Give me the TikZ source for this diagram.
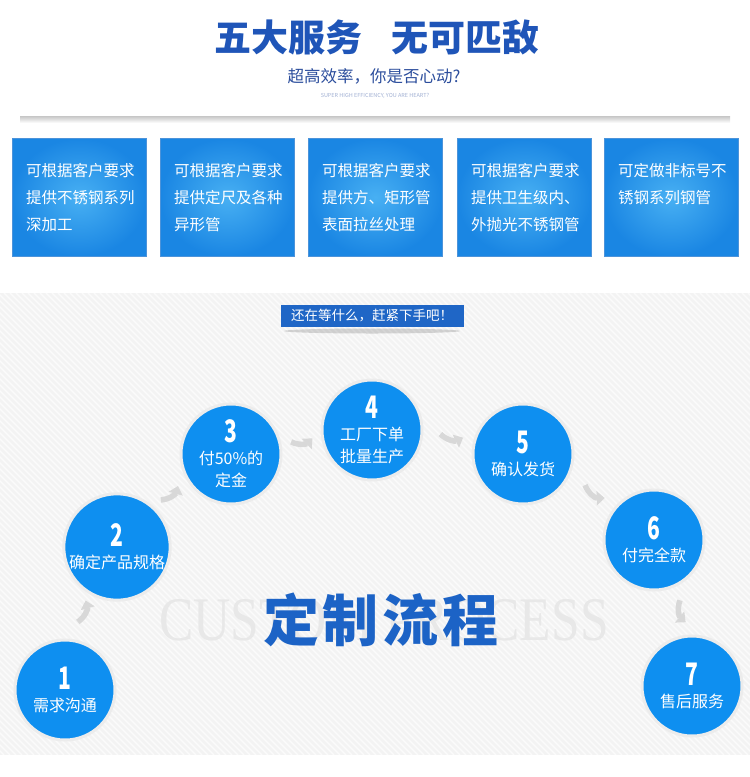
\documentclass[tikz,border=0pt]{standalone}
\usepackage{fontspec}
\setmainfont{Noto Sans CJK SC}
\newfontfamily\serifwm{Liberation Serif}
\usepackage{tikz}
\usetikzlibrary{calc,arrows.meta,positioning}
\definecolor{titleblue}{HTML}{1F55B8}
\definecolor{subblue}{HTML}{2B4D9C}
\definecolor{boxin}{HTML}{48B0F3}
\definecolor{boxout}{HTML}{1A86E3}
\definecolor{boxedge}{HTML}{4C93DA}
\definecolor{stageblue}{HTML}{0E8FF0}
\definecolor{ring}{HTML}{ECECEC}
\definecolor{banner}{HTML}{1F66C6}
\definecolor{bggray}{HTML}{F3F3F3}
\definecolor{arrowgray}{HTML}{D8D8D8}
\definecolor{wm}{HTML}{E8E8E8}
\definecolor{flowblue}{HTML}{1C63C6}
\newcommand{\stagenum}[1]{\scalebox{0.68}[1]{\fontsize{31}{31}\selectfont\bfseries #1}}
\tikzset{
  servbox/.style={rectangle, minimum width=134pt, minimum height=118pt, inner sep=0pt, inner color=boxin, outer color=boxout, draw=boxedge, line width=0.6pt, anchor=north west},
  servtext/.style={anchor=north west, inner sep=0pt, text=white, font=\fontsize{15.5}{27}\selectfont, align=left},
  stage/.style={circle, minimum size=100pt, inner sep=0pt, fill=stageblue, draw=ring, line width=3pt, text=white, align=center, font=\fontsize{16}{22}\selectfont},
  hop/.style={draw=arrowgray, line width=5.5pt, -{Triangle[length=8pt,width=14pt]}},
}
\begin{document}
\begin{tikzpicture}[x=1pt,y=-1pt]
  \useasboundingbox (0,0) rectangle (750,777);
  % header
  \node[text=titleblue, font=\fontsize{37}{37}\selectfont\bfseries] (title) at (377,37) {五大服务\hspace{30pt}无可匹敌};
  \node[text=subblue, font=\fontsize{16.5}{16.5}\selectfont] (sub) at (374,76) {超高效率，你是否心动?};
  \node[text=subblue!45, font=\fontsize{5.5}{5.5}\selectfont] (subeng) at (375,96) {SUPER HIGH EFFICIENCY, YOU ARE HEART?};
  \shade[top color=gray!45, bottom color=white] (20,116) rectangle (730,123);
  % service boxes
  \foreach \i/\x/\txt in {1/12/{可根据客户要求\\提供不锈钢系列\\深加工},
                          2/160/{可根据客户要求\\提供定尺及各种\\异形管},
                          3/308/{可根据客户要求\\提供方、矩形管\\表面拉丝处理},
                          4/457/{可根据客户要求\\提供卫生级内、\\外抛光不锈钢管},
                          5/604/{可定做非标号不\\锈钢系列钢管}} {
    \node[servbox] (b\i) at (\x,138) {};
    \node[servtext] (t\i) at ($(b\i.north west)+(14,25)$) {\txt};
  }
  % process area
  \fill[bggray] (0,293) rectangle (750,755);
  \begin{scope}
    \clip (0,293) rectangle (750,755);
    \foreach \k in {-470,-464,...,750}
      \draw[white, opacity=0.75, line width=1.2pt] (\k,293) -- ++(462,462);
  \end{scope}
  \fill[black, opacity=0.15] (372,331) ellipse [x radius=88, y radius=2.5];
  \node[fill=banner, text=white, minimum width=183pt, minimum height=22pt, inner sep=0pt, font=\fontsize{13.5}{13.5}\selectfont] (call) at (372,316) {还在等什么，赶紧下手吧！};
  \node[text=wm, font=\serifwm\fontsize{62}{62}\selectfont] (wmark) at (384,620) {\scalebox{0.83}[1]{CUSTOM PROCESS}};
  \node[text=flowblue, font=\fontsize{56}{56}\selectfont\bfseries] (flow) at (381,620) {定\kern4pt制\kern4pt流\kern4pt程};
  % stages
  \node[stage] (s1) at (65,690) {\stagenum{1}\\需求沟通};
  \node[stage] (s2) at (117,547) {\stagenum{2}\\确定产品规格};
  \node[stage] (s3) at (231,454) {\stagenum{3}\\付50\%的\\定金};
  \node[stage] (s4) at (372,430) {\stagenum{4}\\工厂下单\\批量生产};
  \node[stage] (s5) at (523,454) {\stagenum{5}\\确认发货};
  \node[stage] (s6) at (654,540) {\stagenum{6}\\付完全款};
  \node[stage] (s7) at (692,686) {\stagenum{7}\\售后服务};
  \foreach \a/\b/\dx/\dy in {s1/s2/-9/-8, s2/s3/-4/-8, s3/s4/1/-2, s4/s5/5/-6, s5/s6/7/-5, s6/s7/10/-1}
    \draw[hop] ($(\a)!0.42!(\b)+(\dx,\dy)$) to[bend right=35] ($(\a)!0.57!(\b)+(\dx,\dy)$);
\end{tikzpicture}
\end{document}
